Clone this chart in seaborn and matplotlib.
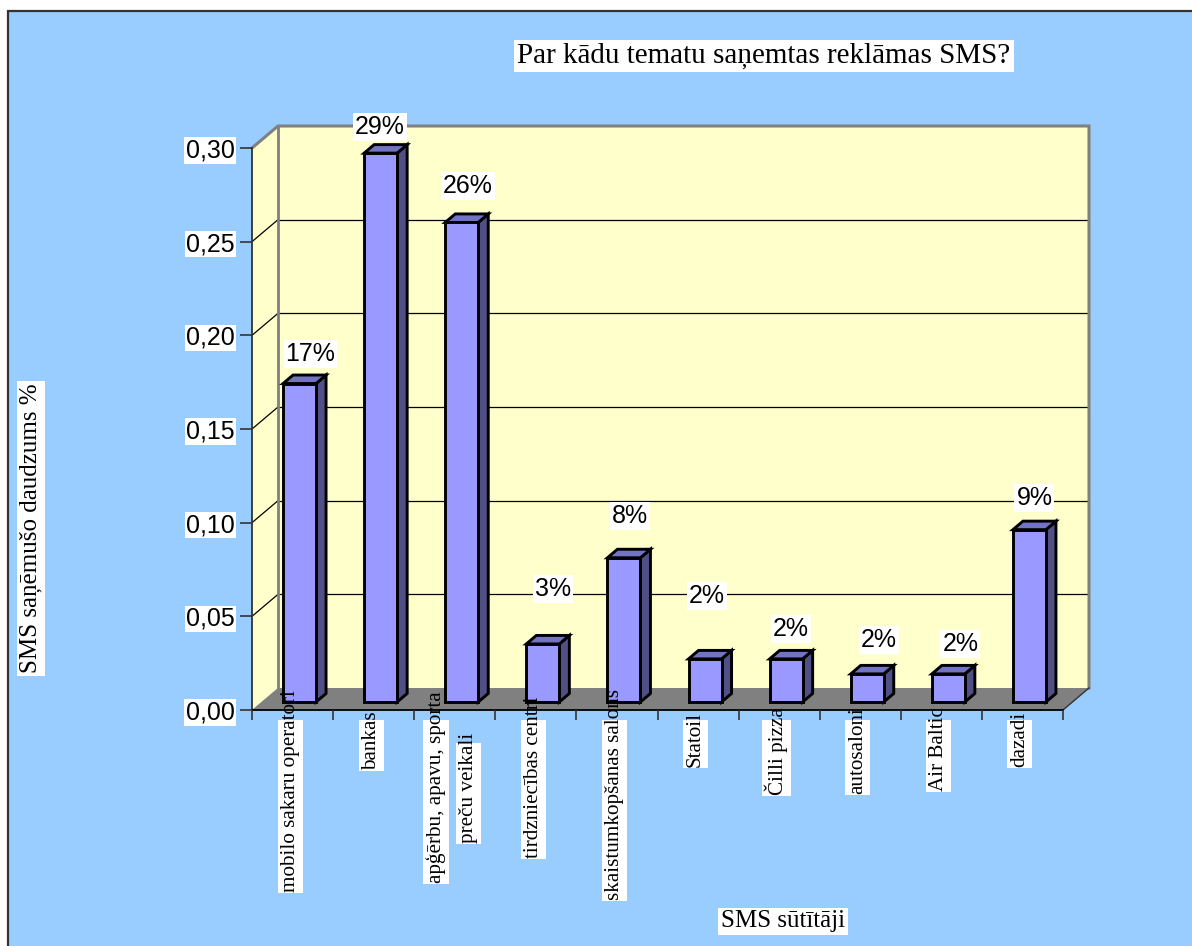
import matplotlib
matplotlib.use("Agg")
import matplotlib.pyplot as plt
import matplotlib.transforms as mtransforms
from matplotlib.patches import Polygon, Rectangle
from matplotlib.ticker import FuncFormatter
import seaborn as sns
import pandas as pd

# ---- data -------------------------------------------------------------
categories = [
    "mobilo sakaru operatori",
    "bankas",
    "apģērbu, apavu, sporta\npreču veikali",
    "tirdzniecības centri",
    "skaistumkopšanas salons",
    "Statoil",
    "Čilli pizza",
    "autosaloni",
    "Air Baltic",
    "dazadi",
]
shares = [0.170, 0.293, 0.256, 0.031, 0.077, 0.023, 0.023, 0.015, 0.015, 0.092]
y_ticks = [0.00, 0.05, 0.10, 0.15, 0.20, 0.25, 0.30]

title = "Par kādu tematu saņemtas reklāmas SMS?"
x_title = "SMS sūtītāji"
y_title = "SMS saņēmušo daudzums %"

# nudges (px) of each value label from the bar's front top edge
label_nudge = [(18, 30), (6, 26), (13, 36), (17, 55), (13, 42),
               (9, 63), (12, 30), (19, 34), (19, 30), (12, 32)]

# ---- styling ----------------------------------------------------------
SANS = ["Liberation Sans", "DejaVu Sans"]
SERIF = ["Liberation Serif", "DejaVu Serif"]
BG_BLUE = "#99CCFF"
WALL = "#FFFFCC"
FLOOR = "#808080"
FRONT = "#9999FF"
SIDE = "#505087"
TOP = "#7373C6"

W, H, DPI = 1192, 946, 100
fig = plt.figure(figsize=(W / DPI, H / DPI), dpi=DPI)
fig.patch.set_facecolor("white")

# chart area panel with a dark frame
fig.add_artist(Rectangle((8 / W, -0.02), 1.05, 1 - 11 / H + 0.02,
                         transform=fig.transFigure, facecolor=BG_BLUE,
                         edgecolor="#333333", linewidth=1.6, zorder=0))

# front plane of the 3-D box
AX_L, AX_R, AX_B, AX_T = 252, 1063, 710, 148
ax = fig.add_axes([AX_L / W, 1 - AX_B / H, (AX_R - AX_L) / W, (AX_B - AX_T) / H])
ax.patch.set_visible(False)

n = len(categories)
YMAX = y_ticks[-1]
px_x = (AX_R - AX_L) / n          # px per category
px_y = (AX_B - AX_T) / YMAX       # px per unit value
DX, DY = 26 / px_x, 22 / px_y     # depth of the box in data units
x0, x1 = -0.5, n - 0.5

wall_kw = dict(facecolor=WALL, edgecolor="none", clip_on=False, zorder=0.5)
ax.add_patch(Polygon([(x0 + DX, DY), (x1 + DX, DY), (x1 + DX, YMAX + DY), (x0 + DX, YMAX + DY)], **wall_kw))
ax.add_patch(Polygon([(x0, 0), (x0 + DX, DY), (x0 + DX, YMAX + DY), (x0, YMAX)], **wall_kw))
ax.add_patch(Polygon([(x0, 0), (x1, 0), (x1 + DX, DY), (x0 + DX, DY)],
                     facecolor=FLOOR, edgecolor="none", clip_on=False, zorder=0.6))

# gridlines on back wall and side wall
for v in y_ticks[1:-1]:
    ax.plot([x0 + DX, x1 + DX], [v + DY, v + DY], color="black", lw=0.9, clip_on=False, zorder=0.7)
    ax.plot([x0, x0 + DX], [v, v + DY], color="black", lw=0.9, clip_on=False, zorder=0.7)

# wall borders
ax.plot([x0, x0 + DX, x1 + DX, x1 + DX], [YMAX, YMAX + DY, YMAX + DY, DY],
        color="#808080", lw=2.2, clip_on=False, zorder=0.8, solid_joinstyle="miter")
ax.plot([x0 + DX, x0 + DX], [DY, YMAX + DY], color="#808080", lw=2.0, clip_on=False, zorder=0.8)
ax.plot([x1, x1 + DX], [0, DY], color="#333333", lw=1.0, clip_on=False, zorder=0.8)

# ---- bars -------------------------------------------------------------
df = pd.DataFrame({"sender": categories, "share": shares})
BAR_W = 33 / px_x
sns.barplot(data=df, x="sender", y="share", order=categories, color=FRONT,
            saturation=1, width=BAR_W, edgecolor="black", linewidth=2.1,
            ax=ax, zorder=3)

shift = mtransforms.offset_copy(ax.transData, fig=fig, x=7, y=8, units="dots")
bd_x, bd_y = 10 / px_x, 8.5 / px_y
for bar in ax.containers[0]:
    bar.set_transform(shift)
    bar.set_clip_on(False)
    bx, bw, bh = bar.get_x(), bar.get_width(), bar.get_height()
    side = Polygon([(bx + bw, 0), (bx + bw + bd_x, bd_y), (bx + bw + bd_x, bh + bd_y), (bx + bw, bh)],
                   facecolor=SIDE, edgecolor="black", lw=2.1, transform=shift,
                   clip_on=False, zorder=2.9, joinstyle="miter")
    top = Polygon([(bx, bh), (bx + bw, bh), (bx + bw + bd_x, bh + bd_y), (bx + bd_x, bh + bd_y)],
                  facecolor=TOP, edgecolor="black", lw=2.1, transform=shift,
                  clip_on=False, zorder=2.9, joinstyle="miter")
    ax.add_patch(side)
    ax.add_patch(top)

# value labels
for i, (v, (nx, ny)) in enumerate(zip(shares, label_nudge)):
    ax.annotate(f"{v:.0%}", xy=(i, v), xytext=(nx * 0.72, (8 + ny) * 0.72),
                textcoords="offset points", ha="center", va="center",
                fontsize=18, family=SANS, color="black", zorder=5,
                bbox=dict(boxstyle="square,pad=0.08", fc="white", ec="none"),
                annotation_clip=False)

# ---- axes -------------------------------------------------------------
ax.set_xlim(x0, x1)
ax.set_ylim(0, YMAX)
ax.set_xlabel("")
ax.set_ylabel("")
for s in ("top", "right"):
    ax.spines[s].set_visible(False)
ax.spines["left"].set_color("#333333")
ax.spines["left"].set_linewidth(1.3)
ax.spines["bottom"].set_color("black")
ax.spines["bottom"].set_linewidth(1.3)
ax.spines["left"].set_zorder(1)
ax.spines["bottom"].set_zorder(1)

ax.set_yticks(y_ticks)
ax.yaxis.set_major_formatter(FuncFormatter(lambda v, _: f"{v:.2f}".replace(".", ",")))
ax.tick_params(axis="y", length=8.6, width=1.2, color="#333333", pad=4.0, labelsize=18)
for lbl in ax.get_yticklabels():
    lbl.set_family(SANS)
    lbl.set_bbox(dict(boxstyle="square,pad=0.05", fc="white", ec="none"))

ax.set_xticks([x0 + k for k in range(n + 1)])
ax.set_xticklabels([""] * (n + 1))
ax.tick_params(axis="x", length=7.5, width=1.2, color="#333333", direction="out")

# rotated category labels; the white label panel starts just below the ticks
renderer = fig.canvas.get_renderer()
PANEL_TOP = H - 720          # display y of the label panel's upper edge
cat_kw = dict(rotation=90, fontsize=15.2, family=SERIF, color="black", zorder=5)


def label_panel(ext):
    fig.add_artist(Rectangle((ext.x0 - 3, ext.y0 - 1), ext.width + 6,
                             PANEL_TOP - ext.y0 + 1, transform=None,
                             facecolor="white", edgecolor="none", zorder=4))


for i, name in enumerate(categories):
    lines = name.split("\n")
    step = 32
    first_dx = -2.5 - step * (len(lines) - 1) / 2
    cx_disp = ax.transData.transform((i, 0))[0] + first_dx
    t0 = fig.text(cx_disp, PANEL_TOP, lines[0], transform=None,
                  ha="center", va="top", **cat_kw)
    ext = t0.get_window_extent(renderer)
    length = ext.height
    # the run of text reaches a little above the panel
    t0.set_position((cx_disp, PANEL_TOP + 0.148 * length))
    ext = t0.get_window_extent(renderer)
    label_panel(ext)
    cy = (ext.y0 + ext.y1) / 2
    for k, line in enumerate(lines[1:], start=1):
        tk = fig.text(cx_disp + step * k, cy, line, transform=None,
                      ha="center", va="center", **cat_kw)
        ek = tk.get_window_extent(renderer)
        fig.add_artist(Rectangle((ek.x0 - 3, ek.y0 - 1), ek.width + 6,
                                 min(ek.height * 0.9, PANEL_TOP - ek.y0) + 1,
                                 transform=None, facecolor="white",
                                 edgecolor="none", zorder=4))

# ---- titles -----------------------------------------------------------
box = dict(boxstyle="square,pad=0.1", fc="white", ec="none")
fig.text(764 / W, 1 - 56 / H, title, ha="center", va="center", fontsize=21,
         family=SERIF, bbox=box)
fig.text(783 / W, 1 - 921 / H, x_title, ha="center", va="center", fontsize=18,
         family=SERIF, bbox=box)
fig.text(31 / W, 1 - 528.5 / H, y_title, ha="center", va="center", fontsize=18,
         family=SERIF, rotation=90, bbox=box)

fig.savefig("out.png", dpi=DPI, facecolor=fig.get_facecolor())
